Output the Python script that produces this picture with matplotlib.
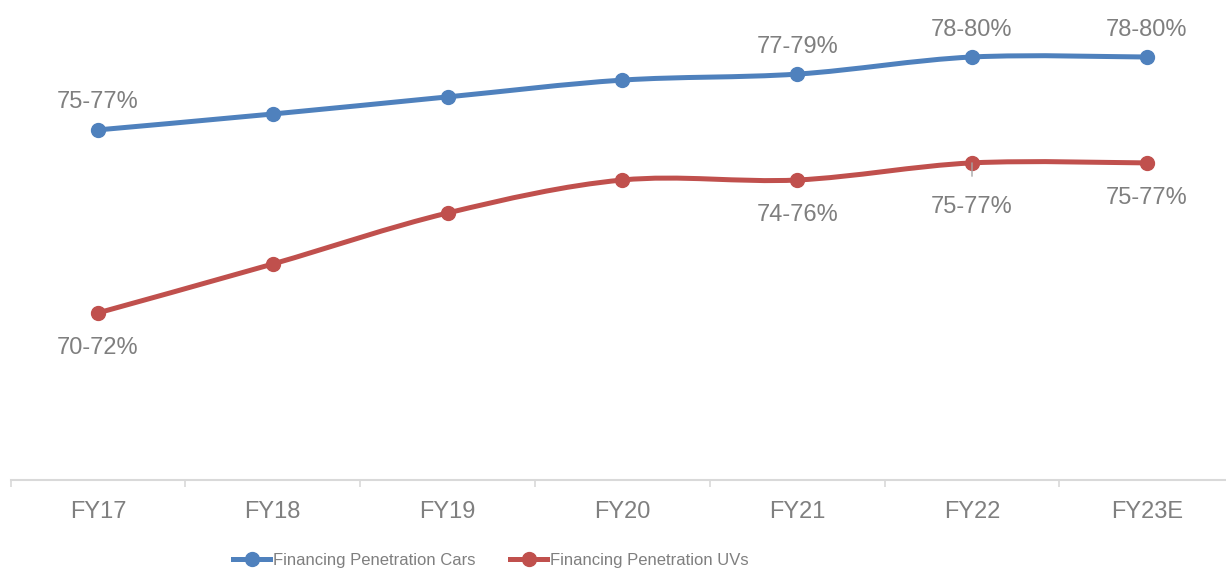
import numpy as np
import matplotlib.pyplot as plt
from matplotlib.path import Path
from matplotlib.patches import PathPatch

plt.rcParams['font.family'] = ['Liberation Sans', 'DejaVu Sans']

# data
years = ["FY17", "FY18", "FY19", "FY20", "FY21", "FY22", "FY23E"]
cars = [75.67, 76.2, 76.77, 77.33, 77.53, 78.1, 78.1]
uvs = [69.57, 71.2, 72.9, 74.0, 74.0, 74.57, 74.57]
cars_labels = ["75-77%", "", "", "", "77-79%", "78-80%", "78-80%"]
uvs_labels = ["70-72%", "", "", "", "74-76%", "75-77%", "75-77%"]

blue = "#4F81BD"
red = "#C0504D"
grey = "#7F7F7F"


def smooth_path(xs, ys):
    # excel-like smoothed line: cubic bezier segments through each point
    p = np.column_stack([xs, ys]).astype(float)
    ext = np.vstack([p[0], p, p[-1]])
    verts = [p[0]]
    codes = [Path.MOVETO]
    for i in range(len(p) - 1):
        c1 = p[i] + (ext[i + 2] - ext[i]) / 6
        c2 = p[i + 1] - (ext[i + 3] - ext[i + 1]) / 6
        verts += [c1, c2, p[i + 1]]
        codes += [Path.CURVE4] * 3
    return Path(verts, codes)


fig = plt.figure(figsize=(12.26, 5.72), dpi=100)
ax = fig.add_axes([10.6 / 1226, 92 / 572, 1223.6 / 1226, 480 / 572])

x = np.arange(len(years))
for vals, col, name in [(cars, blue, "Financing Penetration Cars"),
                        (uvs, red, "Financing Penetration UVs")]:
    ax.add_patch(PathPatch(smooth_path(x, vals), facecolor="none",
                           edgecolor=col, lw=3.6, capstyle="round"))
    ax.plot(x, vals, ls="-", lw=3.6, color=col, marker="o", markersize=10,
            label=name, alpha=0)
    ax.plot(x, vals, ls="none", color=col, marker="o", markersize=10)

# data labels
for i, lab in enumerate(cars_labels):
    if lab:
        ax.annotate(lab, (x[i], cars[i]), xytext=(0, 19.8),
                    textcoords="offset points", ha="center", va="center",
                    fontsize=17, color=grey)
for i, lab in enumerate(uvs_labels):
    if not lab:
        continue
    if i == 5:
        ax.annotate(lab, (x[i], uvs[i]), xytext=(0, -31.5),
                    textcoords="offset points", ha="center", va="center",
                    fontsize=17, color=grey,
                    arrowprops=dict(arrowstyle="-", color="#A6A6A6", lw=1,
                                    shrinkA=12, shrinkB=0))
    else:
        ax.annotate(lab, (x[i], uvs[i]), xytext=(0, -25.5),
                    textcoords="offset points", ha="center", va="center",
                    fontsize=17, color=grey)

ax.set_xlim(-0.5, len(years) - 0.5)
ax.set_ylim(64, 80)
ax.set_xticks(x, years)
ax.set_xticks(np.arange(-0.5, len(years)), minor=True)
ax.tick_params(axis="x", which="major", length=0, pad=15, labelsize=17,
               labelcolor=grey)
ax.tick_params(axis="x", which="minor", length=5, width=1.2, color="#D9D9D9")
ax.set_yticks([])
for s in ["top", "right", "left"]:
    ax.spines[s].set_visible(False)
ax.spines["bottom"].set_color("#D9D9D9")
ax.spines["bottom"].set_linewidth(1.5)

leg = ax.legend(loc="center", bbox_to_anchor=(491 / 1226, 1 - 560 / 572),
                bbox_transform=fig.transFigure, ncols=2, frameon=False,
                fontsize=12, handlelength=2.2, handletextpad=0.17,
                columnspacing=2.1, labelcolor=grey)
for h in leg.legend_handles:
    h.set_alpha(1)

fig.savefig("out.png", dpi=100)
